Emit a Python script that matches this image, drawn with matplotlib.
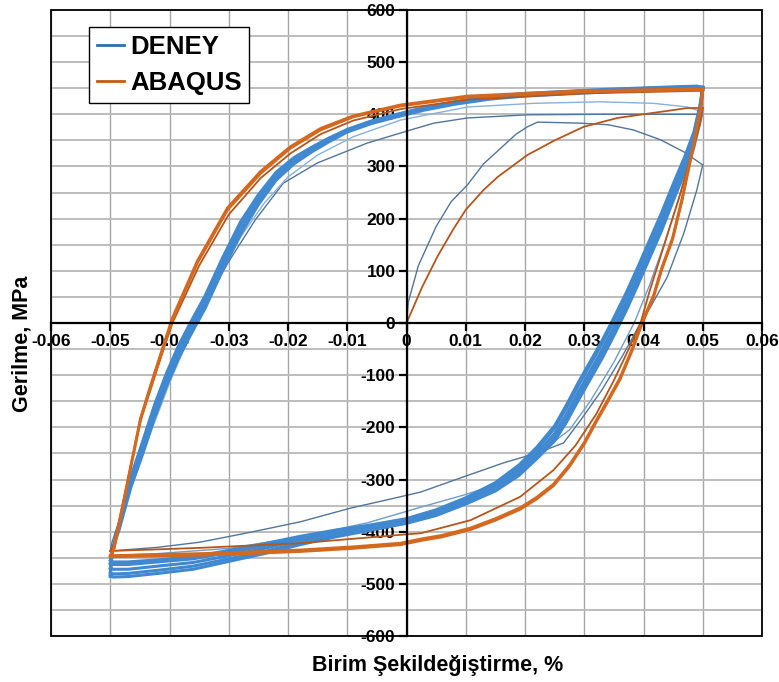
import matplotlib
matplotlib.use('Agg')
import matplotlib.pyplot as plt
from matplotlib.lines import Line2D
from matplotlib.patches import Rectangle

plt.rcParams['font.family'] = ['Liberation Sans', 'DejaVu Sans']
plt.rcParams['font.weight'] = 'bold'

# --- DENEY (deney) ---
# ilk yukleme
den_load0_x = [0.0, 0.0003, 0.002, 0.005, 0.0075, 0.0103, 0.013, 0.0159, 0.0185, 0.0204, 0.0221, 0.026, 0.0294, 0.034, 0.0383, 0.0429, 0.0468, 0.05]
den_load0_y = [0, 40, 110, 185, 232, 265, 305, 335, 362, 376, 385, 384, 383, 380, 370, 351, 328, 303]
# 1. bosaltma
den_unl1_x = [0.05, 0.049, 0.0468, 0.044, 0.0412, 0.0395, 0.0365, 0.033, 0.0294, 0.0265, 0.0221, 0.0164, 0.0096, 0.0024, -0.001, -0.0095, -0.0179, -0.0263, -0.0348, -0.042, -0.05]
den_unl1_y = [303, 255, 172, 88, 31, 0, -62, -128, -186, -230, -249, -268, -295, -324, -333, -355, -381, -401, -420, -430, -437]
# 1. yeniden yukleme
den_rel1_x = [-0.05, -0.0497, -0.046, -0.043, -0.040, -0.0375, -0.0355, -0.033, -0.030, -0.0255, -0.0208, -0.015, -0.0066, 0.0007, 0.0046, 0.0103, 0.0204, 0.0327, 0.05]
den_rel1_y = [-437, -420, -292, -200, -112, -42, 0, 58, 118, 198, 268, 307, 345, 370, 383, 393, 399, 400, 400]
# 2. bosaltma
den_unl2_x = [0.05, 0.0485, 0.046, 0.0435, 0.041, 0.0385, 0.035, 0.031, 0.0275, 0.0214, 0.0164, 0.0096, 0.0024, -0.0066, -0.0179, -0.030, -0.042, -0.05]
den_unl2_y = [400, 330, 240, 152, 72, 2, -75, -150, -205, -257, -305, -330, -353, -383, -410, -432, -442, -446]
# 2. yeniden yukleme
den_rel2_x = [-0.05, -0.0497, -0.046, -0.043, -0.040, -0.037, -0.0355, -0.032, -0.028, -0.024, -0.020, -0.015, -0.009, -0.001, 0.0103, 0.0214, 0.0327, 0.0417, 0.0474, 0.05]
den_rel2_y = [-446, -432, -300, -205, -115, -35, 3, 82, 165, 230, 280, 322, 357, 389, 414, 421, 424, 421, 414, 404]

# kararli cevrimler (kalin bant)
band_up_x = [-0.05, -0.0497, -0.0485, -0.0465, -0.0445, -0.0425, -0.0405, -0.0385, -0.0365, -0.034, -0.031, -0.028, -0.025, -0.022, -0.019, -0.016, -0.013, -0.010, -0.006, -0.002, 0.003, 0.008, 0.014, 0.020, 0.027, 0.034, 0.041, 0.046, 0.049, 0.05]
band_up_a = [-470, -438, -392, -306, -240, -170, -110, -58, -14, 38, 112, 180, 235, 280, 310, 332, 351, 368, 384, 396, 410, 421, 431, 437, 441, 445, 449, 451, 452, 450]
band_up_b = [-480, -440, -388, -298, -230, -160, -100, -48, -4, 48, 122, 190, 243, 286, 314, 335, 353, 370, 386, 398, 412, 423, 433, 439, 443, 447, 450, 452, 453, 451]
band_up_c = [-462, -436, -396, -314, -250, -180, -120, -68, -24, 28, 102, 170, 227, 274, 305, 328, 348, 366, 382, 394, 408, 419, 429, 435, 439, 443, 447, 449, 450, 448]
band_up_d = [-486, -442, -385, -294, -226, -156, -96, -44, 0, 52, 126, 194, 246, 289, 317, 337, 355, 371, 387, 399, 413, 424, 434, 440, 444, 448, 451, 453, 454, 452]

band_dn_x = [0.05, 0.0495, 0.0485, 0.047, 0.045, 0.043, 0.041, 0.039, 0.037, 0.035, 0.033, 0.031, 0.029, 0.027, 0.025, 0.022, 0.019, 0.015, 0.010, 0.005, 0.0, -0.006, -0.012, -0.018, -0.024, -0.030, -0.036, -0.042, -0.047, -0.0495, -0.05]
band_dn_a = [450, 405, 353, 305, 249, 192, 140, 88, 38, -8, -52, -92, -132, -175, -212, -249, -282, -313, -340, -362, -378, -390, -402, -416, -432, -446, -459, -466, -472, -472, -470]
band_dn_b = [451, 412, 362, 315, 260, 204, 152, 100, 50, 4, -40, -80, -120, -163, -202, -242, -276, -309, -337, -360, -376, -388, -399, -412, -427, -440, -452, -458, -463, -463, -460]
band_dn_c = [448, 398, 345, 296, 240, 182, 130, 78, 28, -18, -62, -102, -142, -185, -220, -256, -288, -318, -344, -366, -381, -394, -407, -421, -438, -452, -466, -474, -480, -481, -478]
band_dn_d = [452, 416, 366, 320, 266, 210, 158, 106, 56, 10, -34, -74, -114, -157, -197, -238, -272, -306, -335, -358, -375, -387, -397, -409, -423, -436, -448, -454, -458, -458, -455]
band_dn_e = [450, 394, 340, 290, 234, 176, 124, 72, 22, -24, -68, -108, -148, -190, -226, -260, -292, -322, -347, -369, -384, -397, -410, -425, -442, -457, -472, -480, -486, -487, -484]

# --- ABAQUS ---
abq_load0_x = [0.0, 0.0026, 0.0052, 0.0078, 0.010, 0.013, 0.0154, 0.0204, 0.025, 0.0299, 0.0356, 0.0412, 0.0474, 0.05]
abq_load0_y = [0, 68, 127, 178, 217, 255, 280, 322, 350, 376, 393, 402, 412, 412]
abq_unl1_x = [0.05, 0.0495, 0.048, 0.046, 0.0435, 0.041, 0.0395, 0.0375, 0.035, 0.032, 0.0285, 0.0248, 0.0192, 0.0108, 0.0024, -0.001, -0.0179, -0.0348, -0.05]
abq_unl1_y = [412, 380, 320, 240, 150, 60, 0, -50, -110, -175, -235, -282, -333, -378, -403, -406, -422, -431, -437]
abq_rel1_x = [-0.05, -0.0494, -0.047, -0.045, -0.0432, -0.041, -0.0395, -0.035, -0.030, -0.0246, -0.0196, -0.0145, -0.009, -0.001, 0.0103, 0.0294, 0.0496, 0.05]
abq_rel1_y = [-437, -425, -300, -190, -128, -50, 0, 110, 208, 278, 325, 362, 388, 410, 428, 440, 445, 440]

abq_up_x = [-0.05, -0.0494, -0.0449, -0.0432, -0.041, -0.0395, -0.0353, -0.0302, -0.0246, -0.0196, -0.0145, -0.009, -0.001, 0.0103, 0.0294, 0.0496, 0.05]
abq_up_a = [-448, -435, -186, -123, -46, 6, 115, 217, 287, 335, 370, 395, 416, 433, 443, 447, 445]
abq_up_b = [-446, -433, -183, -120, -42, 10, 119, 221, 291, 338, 373, 397, 418, 435, 445, 449, 447]
abq_dn_x = [0.05, 0.0496, 0.0483, 0.0465, 0.0449, 0.043, 0.0417, 0.0398, 0.038, 0.036, 0.034, 0.032, 0.030, 0.0275, 0.0248, 0.022, 0.0192, 0.015, 0.0108, 0.006, 0.0024, -0.001, -0.009, -0.0179, -0.027, -0.0348, -0.043, -0.05]
abq_dn_a = [445, 408, 332, 235, 160, 100, 50, 0, -55, -109, -150, -190, -232, -275, -312, -337, -357, -378, -396, -410, -417, -425, -432, -438, -442, -445, -447, -448]
abq_dn_b = [447, 410, 335, 238, 163, 103, 53, 3, -52, -106, -147, -187, -229, -272, -309, -334, -354, -375, -393, -407, -414, -422, -429, -435, -439, -442, -444, -446]

xticks = [-0.06, -0.05, -0.04, -0.03, -0.02, -0.01, 0.0, 0.01, 0.02, 0.03, 0.04, 0.05, 0.06]
xtick_labels = ['-0.06', '-0.05', '-0.04', '-0.03', '-0.02', '-0.01', '0', '0.01', '0.02', '0.03', '0.04', '0.05', '0.06']
yticks = [-600, -500, -400, -300, -200, -100, 0, 100, 200, 300, 400, 500, 600]
yminor = [-550, -450, -350, -250, -150, -50, 50, 150, 250, 350, 450, 550]

blue = '#4088cf'
blue_dark = '#51769a'
blue_light = '#86b2dc'
orange = '#d4681f'
orange_dark = '#b6561a'

fig = plt.figure(figsize=(7.79, 6.82), dpi=100)
ax = fig.add_axes([0.0655, 0.0674, 0.9127, 0.918])

# deney egrileri
ax.plot(den_load0_x, den_load0_y, color=blue_dark, lw=1.0, zorder=3)
ax.plot(den_unl1_x, den_unl1_y, color=blue_dark, lw=1.0, zorder=3)
ax.plot(den_rel1_x, den_rel1_y, color=blue_dark, lw=1.0, zorder=3)
ax.plot(den_unl2_x, den_unl2_y, color='#6f9cc8', lw=1.0, zorder=3)
ax.plot(den_rel2_x, den_rel2_y, color=blue_light, lw=1.0, zorder=3)
for up in [band_up_a, band_up_b, band_up_c, band_up_d]:
    ax.plot(band_up_x, up, color=blue, lw=2.2, zorder=3)
for dn in [band_dn_a, band_dn_b, band_dn_c, band_dn_d, band_dn_e]:
    ax.plot(band_dn_x, dn, color=blue, lw=2.2, zorder=3)

# abaqus egrileri
ax.plot(abq_load0_x, abq_load0_y, color=orange_dark, lw=1.3, zorder=4)
ax.plot(abq_unl1_x, abq_unl1_y, color=orange_dark, lw=1.3, zorder=4)
ax.plot(abq_rel1_x, abq_rel1_y, color=orange_dark, lw=1.3, zorder=4)
for up in [abq_up_a, abq_up_b]:
    ax.plot(abq_up_x, up, color=orange, lw=2.0, zorder=4)
for dn in [abq_dn_a, abq_dn_b]:
    ax.plot(abq_dn_x, dn, color=orange, lw=2.0, zorder=4)

ax.set_xlim(-0.06, 0.06)
ax.set_ylim(-600, 600)

# eksenler sifirdan geciyor
for s in ['top', 'right']:
    ax.spines[s].set_visible(False)
ax.spines['left'].set_position(('data', 0))
ax.spines['bottom'].set_position(('data', 0))
ax.spines['left'].set_linewidth(1.6)
ax.spines['bottom'].set_linewidth(1.6)
ax.spines['left'].set_zorder(5)
ax.spines['bottom'].set_zorder(5)
ax.add_patch(Rectangle((0, 0), 1, 1, transform=ax.transAxes, fill=False,
                       lw=1.3, edgecolor='black', zorder=6, clip_on=False))

ax.set_xticks(xticks)
ax.set_xticklabels(xtick_labels)
ax.set_yticks(yticks)
ax.set_yticklabels([str(v) for v in yticks])
ax.set_yticks(yminor, minor=True)
ax.tick_params(axis='both', which='major', direction='out', length=6, width=1.6,
               labelsize=12.5, pad=2)
ax.tick_params(axis='y', which='minor', length=0)
for lab in ax.get_xticklabels() + ax.get_yticklabels():
    lab.set_fontweight('bold')

ax.grid(True, axis='x', which='major', color='#a6a6a6', lw=1.0, zorder=0)
ax.grid(True, axis='y', which='both', color='#b8b8b8', lw=1.3, zorder=0)
ax.set_axisbelow(True)

handles = [Line2D([], [], color='#2f6fad', lw=2.0),
           Line2D([], [], color='#c55a11', lw=2.0)]
leg = ax.legend(handles, ['DENEY', 'ABAQUS'], loc='upper left',
                bbox_to_anchor=(0.0534, 0.973), borderaxespad=0,
                fancybox=False, framealpha=1, edgecolor='black',
                prop={'size': 18.5, 'weight': 'bold'}, handlelength=1.05,
                handletextpad=0.25, labelspacing=0.5, borderpad=0.3)
leg.get_frame().set_linewidth(1.0)
leg.set_zorder(7)

fig.text(22 / 779, 1 - 344 / 682, 'Gerilme, MPa', rotation=90, ha='center',
         va='center', fontsize=15.5, fontweight='bold')
fig.text(438 / 779, 1 - 665 / 682, 'Birim Şekildeğiştirme, %', ha='center',
         va='center', fontsize=15.5, fontweight='bold')

fig.savefig('out.png', dpi=100)
